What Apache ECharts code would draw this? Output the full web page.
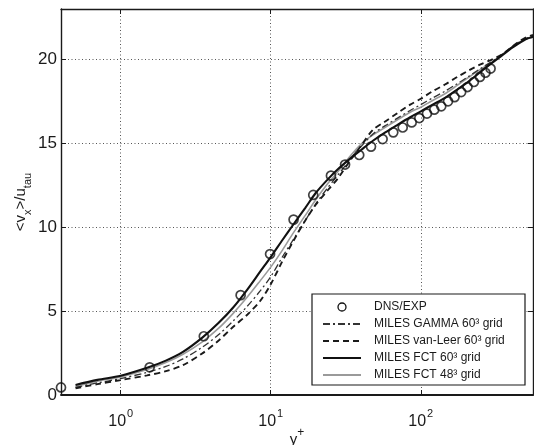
<!DOCTYPE html>
<html>
<head>
<meta charset="utf-8">
<script src="https://cdn.jsdelivr.net/npm/echarts@6/dist/echarts.min.js"></script>
<style>
  html, body { margin: 0; padding: 0; background: #fff; }
  #chart { width: 534px; height: 445px; }
</style>
</head>
<body>
<div id="chart"></div>
<script>
// Mean streamwise velocity profile in wall units, u+ vs y+ (log scale)

// DNS / experiment reference points
const dnsX = [0.4, 1.56, 3.58, 6.3, 9.9, 14.2, 19.2, 25.2, 31.3, 38.9, 46.6, 55.7, 65.6, 75.8,
              87, 97.8, 110, 123, 137, 152, 168, 186, 205, 226, 248, 270, 292];
const dnsY = [0.45, 1.65, 3.5, 5.95, 8.4, 10.45, 11.92, 13.07, 13.73, 14.3, 14.8, 15.25, 15.65, 15.94,
              16.24, 16.5, 16.77, 17.0, 17.2, 17.5, 17.75, 18.05, 18.35, 18.65, 18.95, 19.2, 19.45];

// Common y+ stations for the MILES profiles
const lineX = [0.5, 0.7, 1, 1.5, 2, 2.6, 3.5, 4.5, 5.6, 7, 8.5, 10, 12, 14, 17, 20, 24, 28, 34, 40,
               48, 58, 70, 85, 100, 120, 145, 175, 210, 250, 300, 350, 400, 450, 500, 560];

const gamma60 = [0.45, 0.72, 0.98, 1.35, 1.7, 2.15, 2.85, 3.6, 4.4, 5.3, 6.2, 7.05, 8.25, 9.2, 10.4, 11.4,
                 12.35, 13.1, 14.05, 14.8, 15.55, 16.05, 16.5, 16.95, 17.3, 17.7, 18.1, 18.55, 19.0,
                 19.45, 19.9, 20.3, 20.7, 21.0, 21.25, 21.35];
const vanLeer60 = [0.4, 0.65, 0.89, 1.17, 1.42, 1.78, 2.48, 3.25, 4.05, 4.8, 5.6, 6.6, 8.0, 9.1, 10.4, 11.35,
                   12.2, 12.9, 14.0, 14.85, 15.8, 16.3, 16.8, 17.3, 17.65, 18.1, 18.5, 18.95, 19.35,
                   19.7, 20.0, 20.3, 20.7, 21.05, 21.3, 21.45];
const fct60 = [0.6, 0.9, 1.15, 1.62, 2.05, 2.57, 3.42, 4.3, 5.2, 6.3, 7.35, 8.22, 9.25, 10.1, 11.15, 12.05,
               12.85, 13.45, 14.1, 14.6, 15.15, 15.65, 16.1, 16.55, 16.9, 17.3, 17.7, 18.2, 18.7,
               19.25, 19.8, 20.25, 20.65, 20.95, 21.2, 21.35];
const fct48 = [0.5, 0.82, 1.08, 1.52, 1.93, 2.43, 3.17, 3.98, 4.85, 5.85, 6.8, 7.62, 8.65, 9.6, 10.7, 11.65,
               12.6, 13.3, 14.25, 14.95, 15.5, 15.95, 16.4, 16.85, 17.15, 17.55, 17.95, 18.45, 18.95,
               19.4, 19.85, 20.3, 20.7, 21.0, 21.2, 21.3];

const yTicks = [0, 5, 10, 15, 20];
const xDecades = [0, 1, 2];

const FONT = '"Liberation Sans", Arial, Helvetica, sans-serif';
const INK = '#1a1a1a';

const pairs = (xs, ys) => xs.map((x, i) => [x, ys[i]]);

const chart = echarts.init(document.getElementById('chart'), null, { renderer: 'canvas' });

const gridLine = { show: true, lineStyle: { color: '#555', width: 1, type: [1, 2.5] } };
// line entries in the legend show only the stroke sample, no marker
const hiddenMarker = { opacity: 0 };

chart.setOption({
  backgroundColor: '#fff',
  animation: false,
  grid: { left: 61, right: 1, top: 9, bottom: 50, containLabel: false, outerBoundsMode: 'none' },
  xAxis: [
    {
      type: 'log', logBase: 10, min: 0.4, max: 560, splitNumber: 3,
      position: 'bottom',
      axisLine: { show: true, onZero: false, lineStyle: { color: INK, width: 1.8 } },
      axisTick: { show: true, inside: true, length: 5, lineStyle: { color: INK } },
      minorTick: { show: false },
      splitLine: gridLine,
      axisLabel: {
        margin: 13,
        fontFamily: FONT,
        color: INK,
        formatter: function (v) {
          const e = Math.log10(v);
          const r = Math.round(e);
          if (Math.abs(e - r) > 1e-6 || xDecades.indexOf(r) < 0) return '';
          return '{b|10}{s|' + r + '}';
        },
        rich: {
          b: { fontSize: 16, fontFamily: FONT, color: INK, lineHeight: 22, verticalAlign: 'bottom' },
          s: { fontSize: 11, fontFamily: FONT, color: INK, lineHeight: 11, verticalAlign: 'top', padding: [0, 0, 0, 1] }
        }
      },
      name: '{n|y}{p|+}',
      nameLocation: 'middle',
      nameGap: 32,
      nameMoveOverlap: false,
      nameTextStyle: {
        rich: {
          n: { fontSize: 15, fontFamily: FONT, color: INK, lineHeight: 20, verticalAlign: 'bottom' },
          p: { fontSize: 12, fontFamily: FONT, color: INK, lineHeight: 12, verticalAlign: 'top' }
        }
      }
    },
    {
      type: 'log', logBase: 10, min: 0.4, max: 560, splitNumber: 3,
      position: 'top',
      axisLine: { show: true, onZero: false, lineStyle: { color: INK, width: 1.4 } },
      axisTick: { show: true, inside: true, length: 5, lineStyle: { color: INK } },
      axisLabel: { show: false },
      splitLine: { show: false }
    }
  ],
  yAxis: [
    {
      type: 'value', min: 0, max: 23, interval: 5,
      position: 'left',
      axisLine: { show: true, onZero: false, lineStyle: { color: INK, width: 1.4 } },
      axisTick: { show: true, inside: true, length: 5, lineStyle: { color: INK } },
      splitLine: gridLine,
      axisLabel: {
        margin: 4,
        fontSize: 17,
        fontFamily: FONT,
        color: INK,
        formatter: function (v) { return yTicks.indexOf(v) >= 0 ? String(v) : ''; }
      },
      name: '{n|<v}{s|x}{n|>/u}{s|tau}',
      nameLocation: 'middle',
      nameRotate: 90,
      nameGap: 28,
      nameMoveOverlap: false,
      nameTextStyle: {
        rich: {
          n: { fontSize: 15, fontFamily: FONT, color: INK, lineHeight: 20, verticalAlign: 'top' },
          s: { fontSize: 11, fontFamily: FONT, color: INK, lineHeight: 12, verticalAlign: 'bottom' }
        }
      }
    },
    {
      type: 'value', min: 0, max: 23, interval: 5,
      position: 'right',
      axisLine: { show: true, onZero: false, lineStyle: { color: INK, width: 1.4 } },
      axisTick: { show: true, inside: true, length: 5, lineStyle: { color: INK } },
      axisLabel: { show: false },
      splitLine: { show: false }
    }
  ],
  legend: {
    orient: 'vertical',
    left: 312,
    top: 294,
    backgroundColor: '#fff',
    borderColor: INK,
    borderWidth: 1.2,
    borderRadius: 0,
    padding: [6, 8, 3, 10],
    itemGap: 3,
    itemWidth: 38,
    itemHeight: 8,
    textStyle: {
      fontFamily: FONT,
      fontSize: 12,
      color: INK,
      width: 143,
      padding: [0, 0, 0, 8],
      lineHeight: 14
    },
    data: [
      { name: 'DNS/EXP', icon: 'circle', itemStyle: { color: '#fff', borderColor: '#111', borderWidth: 1.3, opacity: 1 } },
      { name: 'MILES GAMMA 60³ grid', itemStyle: hiddenMarker },
      { name: 'MILES van-Leer 60³ grid', itemStyle: hiddenMarker },
      { name: 'MILES FCT 60³ grid', itemStyle: hiddenMarker },
      { name: 'MILES FCT 48³ grid', itemStyle: hiddenMarker }
    ]
  },
  series: [
    {
      name: 'MILES FCT 48³ grid',
      type: 'line',
      data: pairs(lineX, fct48),
      smooth: 0.3,
      symbol: 'none',
      showSymbol: false,
      lineStyle: { color: '#9a9a9a', width: 1.6, type: 'solid' },
      itemStyle: { color: '#9a9a9a' },
      z: 2
    },
    {
      name: 'MILES GAMMA 60³ grid',
      type: 'line',
      data: pairs(lineX, gamma60),
      smooth: 0.3,
      symbol: 'none',
      showSymbol: false,
      lineStyle: { color: '#333', width: 1.3, type: [7, 3, 2, 3] },
      itemStyle: { color: '#333' },
      z: 3
    },
    {
      name: 'MILES van-Leer 60³ grid',
      type: 'line',
      data: pairs(lineX, vanLeer60),
      smooth: 0.3,
      symbol: 'none',
      showSymbol: false,
      lineStyle: { color: INK, width: 1.9, type: [6, 4] },
      itemStyle: { color: INK },
      z: 3
    },
    {
      name: 'MILES FCT 60³ grid',
      type: 'line',
      data: pairs(lineX, fct60),
      smooth: 0.3,
      symbol: 'none',
      showSymbol: false,
      lineStyle: { color: '#111', width: 2.1, type: 'solid' },
      itemStyle: { color: '#111' },
      z: 4
    },
    {
      name: 'DNS/EXP',
      type: 'scatter',
      data: pairs(dnsX, dnsY),
      symbol: 'circle',
      symbolSize: 9,
      clip: false,
      itemStyle: { color: 'rgba(255,255,255,0)', borderColor: '#111', borderWidth: 1.7 },
      z: 5
    }
  ]
});
</script>
</body>
</html>
